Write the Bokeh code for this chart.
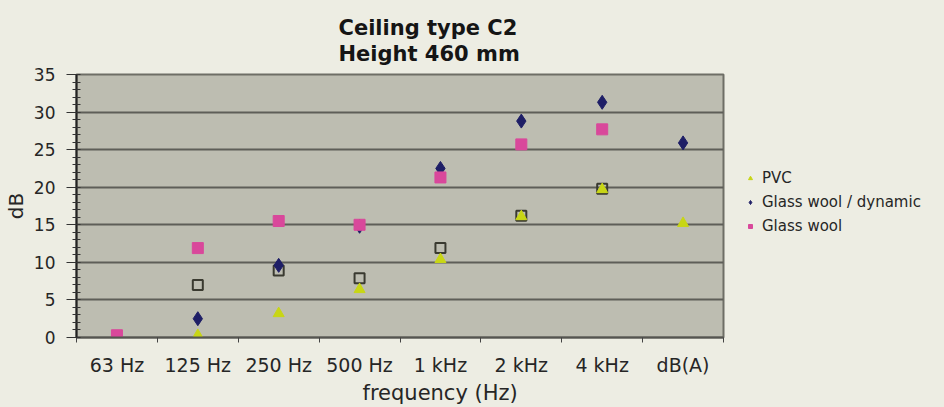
import numpy as np
from bokeh.plotting import figure
from bokeh.layouts import row
from bokeh.models import FixedTicker, Legend, LegendItem, Range1d, Title
from bokeh.embed import file_html
from bokeh.resources import INLINE

nan = np.nan
categories = ["63 Hz", "125 Hz", "250 Hz", "500 Hz", "1 kHz", "2 kHz", "4 kHz", "dB(A)"]
pvc = [nan, 0.3, 3.2, 6.4, 10.4, 16.1, 19.7, 15.2]
glass_wool_dynamic = [nan, 2.5, 9.6, 14.8, 22.5, 28.8, 31.3, 25.9]
glass_wool = [0.3, 11.9, 15.5, 15.0, 21.3, 25.7, 27.7, nan]
unlabeled_series = [nan, 7.0, 8.9, 7.9, 11.9, 16.2, 19.8, nan]
y_ticks = [0, 5, 10, 15, 20, 25, 30, 35]
legend_labels = ["PVC", "Glass wool / dynamic", "Glass wool"]

xs = [i + 0.5 for i in range(len(categories))]

FONT = "DejaVu Sans"
TXT = "#262626"
BG = "#EDEDE3"
PVC_C = "#C8D615"
GWD_C = "#1E1E66"
GW_C = "#D9489B"

p = figure(width=725, height=407, output_backend="svg", toolbar_location=None,
           x_range=Range1d(0, len(categories)), y_range=Range1d(0, 35),
           min_border_left=76, min_border_right=2, min_border_top=74, min_border_bottom=70,
           background_fill_color="#BDBDB1", border_fill_color=BG)
p.outline_line_color = "#6E6E66"
p.outline_line_width = 2

# x axis
p.xaxis.ticker = FixedTicker(ticks=xs, minor_ticks=list(range(len(categories) + 1)))
p.xaxis.major_label_overrides = {x: c for x, c in zip(xs, categories)}
p.xaxis.major_tick_line_alpha = 0
p.xaxis.major_tick_out = 5
p.xaxis.minor_tick_out = 5
p.xaxis.minor_tick_in = 0
p.xaxis.minor_tick_line_color = "#444444"
p.xaxis.axis_line_color = "#555550"
p.xaxis.axis_line_width = 2
p.xaxis.major_label_text_font = FONT
p.xaxis.major_label_text_font_size = "19px"
p.xaxis.major_label_text_color = TXT
p.xaxis.major_label_standoff = 11

# y axis
p.yaxis.ticker = FixedTicker(ticks=y_ticks, minor_ticks=list(range(0, 36)))
p.yaxis.major_tick_out = 10
p.yaxis.major_tick_in = 0
p.yaxis.minor_tick_out = 4
p.yaxis.minor_tick_in = 4
p.yaxis.major_tick_line_color = "#333333"
p.yaxis.minor_tick_line_color = "#333333"
p.yaxis.axis_line_color = "#222222"
p.yaxis.axis_line_width = 2
p.yaxis.major_label_text_font = FONT
p.yaxis.major_label_text_font_size = "17px"
p.yaxis.major_label_text_color = TXT
p.yaxis.major_label_standoff = 11
p.yaxis.axis_label = "dB"
p.yaxis.axis_label_text_font = FONT
p.yaxis.axis_label_text_font_style = "normal"
p.yaxis.axis_label_text_font_size = "20px"
p.yaxis.axis_label_text_color = TXT
p.yaxis.axis_label_standoff = 3

p.xgrid.grid_line_color = None
p.ygrid.ticker = FixedTicker(ticks=y_ticks[1:-1])
p.ygrid.grid_line_color = "#5E5E58"
p.ygrid.grid_line_width = 2

# series
p.scatter(xs, unlabeled_series, marker="square", size=10, fill_color=None,
          line_color="#3A3A30", line_width=2)
p.scatter(xs, pvc, marker="triangle", size=11, fill_color=PVC_C, line_color=PVC_C)
p.scatter(xs, glass_wool_dynamic, marker="diamond", size=14, fill_color=GWD_C, line_color=GWD_C)
p.scatter(xs, glass_wool, marker="square", size=11, fill_color=GW_C, line_color=GW_C)

# two-line title
p.add_layout(Title(text="Ceiling type C2\nHeight 460 mm", align="left", offset=262,
                   standoff=17, text_line_height=1.08,
                   text_font=FONT, text_font_style="bold", text_font_size="21px",
                   text_color="#151515"), "above")

# x axis title
p.add_layout(Title(text="frequency (Hz)", align="left", offset=286, standoff=0,
                   text_font=FONT, text_font_style="normal", text_font_size="21px",
                   text_color=TXT), "below")

# legend panel
lf = figure(width=219, height=407, output_backend="svg", toolbar_location=None,
            x_range=Range1d(0, 1), y_range=Range1d(0, 1),
            x_axis_type=None, y_axis_type=None, min_border=0,
            background_fill_color=BG, border_fill_color=BG, outline_line_color=None)
lf.grid.visible = False
l_pvc = lf.scatter([nan], [nan], marker="triangle", size=10, fill_color=PVC_C, line_color=PVC_C)
l_gwd = lf.scatter([nan], [nan], marker="diamond", size=11, fill_color=GWD_C, line_color=GWD_C)
l_gw = lf.scatter([nan], [nan], marker="square", size=8, fill_color=GW_C, line_color=GW_C)
legend = Legend(items=[LegendItem(label=legend_labels[0], renderers=[l_pvc]),
                       LegendItem(label=legend_labels[1], renderers=[l_gwd]),
                       LegendItem(label=legend_labels[2], renderers=[l_gw])],
                location=(20, 102), orientation="vertical",
                border_line_color=None, background_fill_alpha=0,
                label_text_font=FONT, label_text_font_size="15px",
                label_text_color=TXT, glyph_width=10, glyph_height=16,
                label_standoff=7, spacing=6, padding=0, margin=0)
lf.add_layout(legend, "center")

layout = row(p, lf, spacing=0, background=BG)
open("out.html", "w").write(file_html(layout, INLINE))
